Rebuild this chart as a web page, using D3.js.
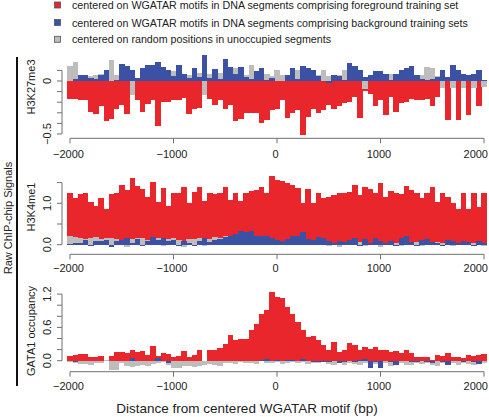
<!DOCTYPE html>
<html><head><meta charset="utf-8">
<script src="https://cdn.jsdelivr.net/npm/d3@7"></script>
<style>body{margin:0;background:#fff}svg{display:block;font-family:"Liberation Sans",Arial,Helvetica,sans-serif}</style>
</head><body><svg id="c" width="489" height="417"></svg>
<script>
// ---- data ----
const binCenters = d3.range(-2000, 2001, 50); // 81 bins of 50 bp
const xTicks = [-2000, -1000, 0, 1000, 2000];
const legendLabels = [
  "centered on WGATAR motifs in DNA segments comprising foreground training set",
  "centered on WGATAR motifs in DNA segments comprising background training sets",
  "centered on random positions in unoccupied segments"
];
const seriesColors = ["#e8262b", "#3b51a3", "#bdbdbd"];

// H3K27me3
const h3k27Fg = [-0.17,-0.17,-0.18,-0.18,-0.29,-0.31,-0.24,-0.38,-0.36,-0.26,-0.23,-0.31,-0.10,-0.18,-0.29,-0.22,-0.18,-0.42,-0.20,-0.20,-0.18,-0.18,-0.16,-0.31,-0.26,-0.25,-0.12,-0.17,-0.23,-0.18,-0.26,-0.23,-0.38,-0.36,-0.30,
 -0.30,-0.30,-0.40,-0.37,-0.27,-0.26,-0.18,-0.35,-0.30,-0.27,-0.51,-0.34,-0.26,-0.30,-0.27,-0.23,-0.26,-0.24,-0.21,-0.20,-0.15,-0.35,-0.09,-0.12,-0.24,-0.18,-0.32,-0.15,-0.29,-0.21,-0.20,-0.17,-0.18,-0.18,-0.17,-0.24,-0.15,-0.04,-0.37,-0.07,-0.37,-0.05,-0.32,-0.05,-0.24,-0.05];
const h3k27Bg = [0,0.02,0.06,0.06,0.03,0.02,0.06,0.10,0.0,0.01,0.16,0.14,0.10,0.03,0.12,0.15,0.15,0.18,0.13,0.10,0.05,0.15,0.07,0.03,0.12,0.04,0.25,0.03,0.11,0.02,0.21,0.13,0.07,0.13,0.04,
 0.02,0.09,0.12,0.01,0.03,0,0,0.06,0.12,0.02,0.14,0.12,0.10,0.05,0,-0.02,0.06,0.05,0.01,0.17,0.14,0.10,0.04,0.06,0.09,0.09,0.07,0.01,0.07,0.10,0.12,0.14,0.06,0.02,0.01,0.02,0.04,0.10,0.04,0.15,0.10,0.07,0.06,0.07,0.10,0.01];
const h3k27Rand = [0.14,0.18,0.04,0.03,0.05,0.06,0.07,0.08,0.20,0.06,0.05,0.05,-0.13,0.0,0.03,0.04,0.05,0.06,0.04,0.10,0.09,0.05,0.03,0.06,0.05,0.08,-0.13,0.07,0.06,0.08,0.05,0.06,0.12,0.05,0.06,
 0.15,0.06,0.04,0.07,0.05,0.10,0.06,0.04,0.05,0.10,0.06,0.05,0.07,0.06,0.10,0.05,0.04,0.06,0.10,0.05,0.07,0.04,-0.08,0.05,0.04,0.06,0.05,0.07,0.04,0.06,0.05,0.04,0.05,0.06,0.13,0.12,0.05,-0.07,0.03,-0.07,0.02,-0.07,0.02,-0.07,0.02,-0.06];

// H3K4me1
const h3k4Fg = [1.26,1.12,1.22,1.24,1.02,0.93,1.14,0.86,1.22,1.24,1.44,1.32,1.60,1.42,1.35,1.16,1.52,1.04,1.36,0.93,1.24,1.24,1.40,1.00,1.28,1.40,1.05,1.24,1.22,1.24,1.40,1.08,1.25,1.06,1.25,
 1.29,1.31,1.40,1.25,1.66,1.56,1.54,1.50,1.44,1.36,1.01,1.34,1.00,1.26,1.14,1.16,1.20,1.24,1.24,1.27,1.44,1.20,1.40,1.34,1.24,1.50,1.16,1.30,1.26,1.22,1.42,1.32,1.26,1.14,1.26,1.40,1.04,1.26,1.16,1.00,0.86,1.26,0.86,1.26,0.92,1.26];
const h3k4Bg = [0.02,0.05,0.03,0.12,-0.04,0.10,0.08,0.12,-0.05,0.10,0.12,0.16,0.05,0.14,-0.03,0.10,0.18,0.12,0.16,0.08,0.12,-0.03,0.10,0.05,-0.04,0.10,0.15,0.06,0.12,0.14,0.18,0.20,0.26,0.32,0.30,
 0.33,0.20,0.22,0.20,0.16,0.12,0.10,0.14,0.20,0.22,0.30,0.14,0.12,0.18,0.16,0.08,0.04,0.10,0.06,0.12,0.16,-0.02,0.14,0.04,0.16,0.10,0.04,0.08,-0.03,0.16,0.20,0.06,-0.02,0.12,0.14,0.06,0.04,-0.04,0.12,0.10,0.04,0.08,0.06,-0.02,0.10,0.04];
const h3k4Rand = [0.22,0.18,0.16,0.14,0.16,0.18,0.14,0.15,0.16,0.14,0.12,-0.06,0.14,0.16,0.15,0.12,0.14,0.16,-0.04,0.13,0.15,0.12,-0.05,0.14,0.13,0.16,-0.04,0.14,0.18,0.16,0.20,0.18,0.16,0.12,0.14,
 0.16,0.16,0.14,0.12,0.10,0.10,0.08,0.10,0.12,0.08,0.10,0.08,0.06,0.08,0.06,-0.03,0.02,-0.05,0.03,0.05,0.04,0.06,-0.04,0.05,0.03,-0.06,0.04,0.06,0.05,-0.04,0.05,0.04,0.06,-0.03,0.05,0.04,0.06,0.05,0.03,-0.04,0.05,0.04,0.06,0.05,0.04,-0.03];

// GATA1 occupancy
const gata1Fg = [0.08,0.10,0.12,0.12,0.07,0.07,0.09,0.02,0.08,0.16,0.16,0.13,0.20,0.16,0.18,0.10,0.26,0.08,0.13,0.12,0.07,0.08,0.18,0.06,0.10,0.19,0.00,0.19,0.20,0.22,
 0.30,0.46,0.37,0.40,0.40,0.55,0.67,0.84,0.91,1.23,1.15,1.13,0.96,0.85,0.70,0.56,0.43,0.44,0.37,0.29,
 0.20,0.34,0.16,0.19,0.32,0.28,0.19,0.25,0.21,0.24,0.20,0.19,0.16,0.17,0.14,0.19,0.13,0.06,0.06,0.07,0.02,0.10,0.08,0.14,0.07,0.07,0.04,0.10,0.08,0.10,0.12];
const gata1Bg = [0,-0.03,0,0,0,0,0,0,-0.01,0,0,0,0.04,0,0,0,0,0.05,0,-0.04,0,0,0,0,0,0,0,0,0,0,
 0,0,0,0,0,0,0,0.02,0.03,0,0.02,0,0.02,0.02,0,0.03,0,-0.02,-0.03,-0.03,
 -0.02,0,-0.04,-0.02,0,-0.03,0.02,0.03,-0.13,-0.03,-0.13,0,-0.02,-0.07,0,0,-0.02,-0.03,0,-0.02,-0.04,0,-0.03,-0.07,0,0,-0.02,0,-0.02,-0.06,0];
const gata1Rand = [-0.02,-0.05,-0.06,-0.06,-0.07,-0.05,-0.04,0.02,-0.16,-0.17,-0.05,-0.09,-0.11,-0.10,-0.08,-0.09,-0.06,-0.04,-0.03,-0.08,-0.13,-0.14,-0.09,-0.10,-0.11,-0.10,-0.07,-0.06,-0.08,-0.09,
 -0.04,-0.05,-0.06,-0.03,-0.05,-0.04,-0.06,0.02,-0.04,-0.05,-0.03,-0.06,-0.04,-0.02,-0.05,-0.03,-0.06,-0.04,-0.05,-0.03,
 -0.06,-0.08,-0.05,-0.07,-0.04,-0.06,-0.08,-0.05,-0.03,-0.06,-0.07,-0.05,-0.09,-0.06,-0.04,-0.08,-0.07,-0.05,-0.06,-0.04,-0.07,-0.09,-0.05,-0.06,-0.04,-0.07,-0.05,-0.06,-0.08,-0.04,-0.05];

const panelTitles = ["H3K27me3", "H3K4me1", "GATA1 occupancy"];
const yTickValues = [[0.1,0,-0.1,-0.2,-0.3,-0.4,-0.5],[0,0.5,1.0,1.5],[0,0.2,0.4,0.6,0.8,1.0,1.2]];
const yTickLabels = [{"0":"0","-0.5":"−0.5"},{"0":"0.0","1":"1.0"},{"0":"0.0","0.6":"0.6","1.2":"1.2"}];

// ---- layout ----
const W = 489;
const svg = d3.select("#c");
const x = d3.scaleLinear().domain([-2000, 2000]).range([70, 484]);
const halfBin = 25;
const panels = [
  {fg:h3k27Fg, bg:h3k27Bg, rand:h3k27Rand, y:d3.scaleLinear().domain([-0.5,0]).range([134,81]), axisY:138.3, labOff:16, titleY:87},
  {fg:h3k4Fg, bg:h3k4Bg, rand:h3k4Rand, y:d3.scaleLinear().domain([0,1]).range([244.7,203.3]), axisY:254.3, labOff:13.5, titleY:207},
  {fg:gata1Fg, bg:gata1Bg, rand:gata1Rand, y:d3.scaleLinear().domain([0,1.2]).range([360.7,294.1]), axisY:371.7, labOff:14.5, titleY:331}
];
const axisColor = "#707070", textColor = "#222";

panels.forEach((p, i) => {
  const g = svg.append("g");
  // draw order: foreground (red), random (gray), background (blue)
  [[p.fg, seriesColors[0]], [p.rand, seriesColors[2]], [p.bg, seriesColors[1]]].forEach(([vals, col]) => {
    g.append("g").attr("shape-rendering","crispEdges").selectAll("rect").data(vals).join("rect")
      .attr("x", (d, k) => x(binCenters[k] - halfBin))
      .attr("width", (d, k) => x(binCenters[k] + halfBin) - x(binCenters[k] - halfBin) + 0.3)
      .attr("y", d => Math.min(p.y(d), p.y(0)))
      .attr("height", d => Math.abs(p.y(d) - p.y(0)))
      .attr("fill", col);
  });
  // x axis
  const xa = svg.append("g").attr("stroke", axisColor).attr("stroke-width", 1);
  xa.append("line").attr("x1", x(-2000)).attr("x2", x(2000)).attr("y1", p.axisY).attr("y2", p.axisY);
  xTicks.forEach(t => {
    xa.append("line").attr("x1", x(t)).attr("x2", x(t)).attr("y1", p.axisY).attr("y2", p.axisY + 5);
    const lbl = svg.append("text").attr("y", p.axisY + p.labOff)
      .attr("dominant-baseline","central").attr("font-size", 11).attr("fill", textColor)
      .text(t < 0 ? "−" + Math.abs(t) : String(t));
    const w = lbl.node().getComputedTextLength();
    const cx = Math.min(x(t) - 1.5, W - 1 - w / 2);
    lbl.attr("x", cx).attr("text-anchor","middle");
  });
  // y axis
  const yt = yTickValues[i];
  const ya = svg.append("g").attr("stroke", axisColor).attr("stroke-width", 1);
  ya.append("line").attr("x1", 62).attr("x2", 62).attr("y1", p.y(d3.max(yt))).attr("y2", p.y(d3.min(yt)));
  yt.forEach(t => {
    ya.append("line").attr("x1", 57).attr("x2", 62).attr("y1", p.y(t)).attr("y2", p.y(t));
    const lab = yTickLabels[i][String(t)];
    if (lab) svg.append("text").attr("transform", `translate(47,${p.y(t)}) rotate(-90)`)
      .attr("text-anchor","middle").attr("dominant-baseline","central").attr("font-size", 11)
      .attr("fill", textColor).text(lab);
  });
  svg.append("text").attr("transform", `translate(31,${p.titleY}) rotate(-90)`)
    .attr("text-anchor","middle").attr("dominant-baseline","central").attr("font-size", 11)
    .attr("fill", textColor).text(panelTitles[i]);
});

// outer label + bracket line
svg.append("line").attr("x1",17).attr("x2",17).attr("y1",57).attr("y2",386).attr("stroke","#111").attr("stroke-width",2);
svg.append("text").attr("transform","translate(8,218) rotate(-90)").attr("text-anchor","middle")
  .attr("dominant-baseline","central").attr("font-size",11).attr("fill",textColor).text("Raw ChIP-chip Signals");
svg.append("text").attr("x",247).attr("y",408).attr("text-anchor","middle").attr("dominant-baseline","central")
  .attr("font-size",13.5).attr("fill",textColor).text("Distance from centered WGATAR motif (bp)");

// legend
const legY = [5, 22.5, 39.3];
const legCols = [seriesColors[0], seriesColors[1], seriesColors[2]];
legendLabels.forEach((lab, i) => {
  svg.append("rect").attr("x",54.5).attr("y",legY[i]-3).attr("width",6).attr("height",6)
    .attr("fill",legCols[i]).attr("stroke","#555").attr("stroke-width",0.8);
  svg.append("text").attr("x",72).attr("y",legY[i]).attr("dominant-baseline","central")
    .attr("font-size",10.7).attr("fill",textColor).text(lab);
});
</script></body></html>
